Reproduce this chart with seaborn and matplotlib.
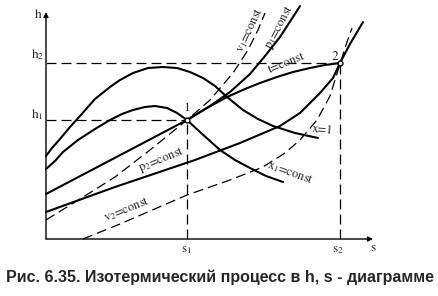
import matplotlib
matplotlib.use("Agg")
import matplotlib.pyplot as plt
import seaborn as sns

# h-s diagram, values (diagram units, origin at axes corner)
s1, h1 = 141, 119
s2, h2 = 294, 176

# saturation line x=1
dome_s = [0, 6, 14, 24, 34, 49, 64, 74, 87, 102, 117, 131, 144, 157, 169, 181, 197, 212, 227, 249, 272]
dome_h = [83, 91, 100, 112, 123, 140, 152, 159, 166, 171, 172, 171, 167, 161, 153, 142, 129, 120, 113, 106, 101]
# x1=const
x1_s = [0, 9, 17, 32, 49, 64, 76, 87, 99, 109, 121, 131, 141, 154, 164, 174, 189, 204, 220, 237]
x1_h = [70, 78, 87, 99, 110, 119, 125, 129, 132, 133, 131, 126, 119, 107, 98, 89, 79, 71, 63, 57]
# t=const (wet part straight, then to point 2)
t_s = [0, 141, 161, 181, 199, 214, 231, 247, 264, 279, 294]
t_h = [45, 119, 131, 142, 150, 156, 162, 167, 171, 174, 176]
# p1=const
p1_s = [141, 164, 184, 204, 219, 234, 247, 254]
p1_h = [119, 133, 147, 165, 183, 202, 222, 233]
# v1=const
v1_s = [0, 34, 69, 104, 141, 164, 187, 202, 212, 219]
v1_h = [19, 40, 62, 89, 119, 139, 166, 189, 209, 226]
# p2=const
p2_s = [0, 69, 149, 194, 234, 254, 274, 287, 294, 304, 317]
p2_h = [27, 52, 79, 96, 113, 126, 146, 161, 176, 195, 217]
# v2=const
v2_s = [37, 74, 104, 141, 184, 217, 239, 254, 271, 284, 294, 300, 306]
v2_h = [0, 15, 28, 44, 59, 72, 86, 99, 119, 143, 175, 194, 211]

sns.set_style("white")
plt.rcParams['font.family'] = ['STIXGeneral', 'DejaVu Serif']
plt.rcParams['mathtext.fontset'] = 'stix'

fig = plt.figure(figsize=(4.38, 2.96), dpi=100)
ax = fig.add_axes([0, 0, 1, 1])
ax.set_xlim(-46, 392)
ax.set_ylim(-57, 239)
ax.axis('off')

solid = dict(color='black', lw=1.5, sort=False, estimator=None, ax=ax)
dashed = dict(color='black', lw=0.9, sort=False, estimator=None, ax=ax, linestyle=(0, (8, 4)))

for xs, ys in [(dome_s, dome_h), (x1_s, x1_h), (t_s, t_h), (p1_s, p1_h), (p2_s, p2_h)]:
    sns.lineplot(x=xs, y=ys, **solid)
for xs, ys in [(v1_s, v1_h), (v2_s, v2_h)]:
    sns.lineplot(x=xs, y=ys, **dashed)

# helper dashed lines to the axes
sns.lineplot(x=[0, s1], y=[h1, h1], **dashed)
sns.lineplot(x=[s1, s1], y=[0, h1], **dashed)
sns.lineplot(x=[0, s2], y=[h2, h2], **dashed)
sns.lineplot(x=[s2, s2], y=[0, h2], **dashed)

# axes with arrows
arr = dict(arrowstyle='-|>', color='black', lw=1.0, mutation_scale=7, shrinkA=0, shrinkB=0)
ax.annotate('', xy=(0, 227), xytext=(0, 0), arrowprops=arr)
ax.annotate('', xy=(327, 0), xytext=(0, 0), arrowprops=arr)

# state points
ax.plot([s1, s2], [h1, h2], 'o', ms=3.5, mfc='white', mec='black', mew=1.0, zorder=5)

fs = 9.5
ax.text(-8, 224, 'h', fontsize=fs, ha='center', va='center')
ax.text(-2, 184, r'h$_2$', fontsize=fs, ha='right', va='center')
ax.text(-2, 124, r'h$_1$', fontsize=fs, ha='right', va='center')
ax.text(s1, -11, r's$_1$', fontsize=fs, ha='center', va='center')
ax.text(s2 - 2, -11, r's$_2$', fontsize=fs, ha='center', va='center')
ax.text(327, -9, 's', fontsize=fs, ha='center', va='center')
ax.text(s1, 131, '1', fontsize=fs, ha='center', va='center')
ax.text(289, 182, '2', fontsize=fs, ha='center', va='center')

fl = 9
ax.text(277, 109, 'x=1', fontsize=fl, ha='center', va='center', rotation=-5)
ax.text(244, 66, r'x$_1$=const', fontsize=fl, ha='center', va='center', rotation=-20)
ax.text(241, 176, 't=const', fontsize=fl, ha='center', va='center', rotation=22)
ax.text(234, 212, r'p$_1$=const', fontsize=fl, ha='center', va='center', rotation=62)
ax.text(204, 209, r'v$_1$=const', fontsize=fl, ha='center', va='center', rotation=65)
ax.text(116, 79, r'p$_2$=const', fontsize=fl, ha='center', va='center', rotation=22)
ax.text(81, 29, r'v$_2$=const', fontsize=fl, ha='center', va='center', rotation=22)

fig.text(0.502, 0.064, 'Рис. 6.35. Изотермический процесс в h, s - диаграмме',
         fontsize=11.5, fontweight='bold', ha='center', va='center',
         family=['Liberation Sans Narrow', 'Liberation Sans', 'DejaVu Sans'])

fig.savefig('out.png', dpi=100)
